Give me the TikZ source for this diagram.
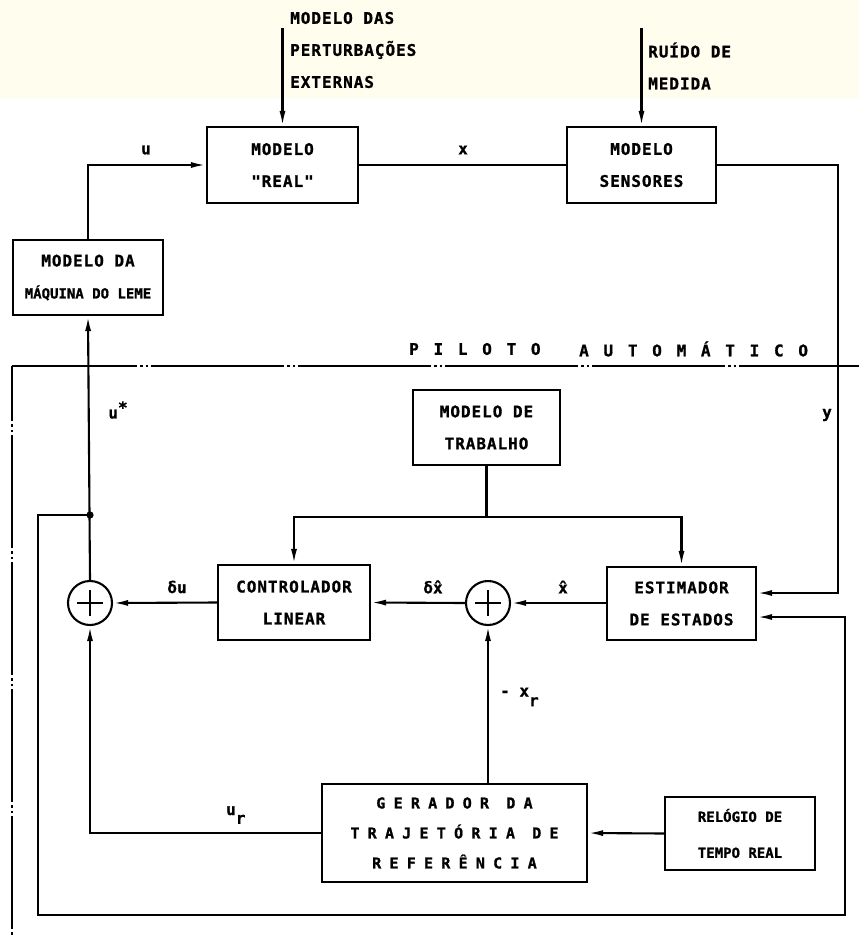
\documentclass[tikz,border=0pt]{standalone}
\usepackage{fontspec}
\usetikzlibrary{arrows.meta,calc}
\newfontfamily\plotf{DejaVu Sans Mono Bold}[LetterSpace=6,FakeBold=1]
\newfontfamily\plotn{DejaVu Sans Mono Bold}[FakeBold=1]
\newfontfamily\plotw{DejaVu Sans Mono Bold}[LetterSpace=55,FakeBold=1]
\newfontfamily\plotp{DejaVu Sans Mono Bold}[LetterSpace=92,FakeBold=1]
\definecolor{cream}{RGB}{255,253,238}
\begin{document}
\begin{tikzpicture}[x=1pt,y=-1pt,
  every node/.style={font=\plotf\fontsize{16}{32}\selectfont, inner sep=0pt},
  blk/.style={draw, line width=2.1pt, align=center},
  sumc/.style={draw, circle, line width=2.1pt, minimum size=44pt},
  wire/.style={line width=2.1pt},
  arr/.style={line width=2.1pt, -{Latex[length=15pt,width=6pt]}},
  frametop/.style={line width=1.8pt, dash pattern=on 133pt off 3pt on 2.5pt off 3pt on 2.5pt off 3pt, dash phase=8pt},
  frameleft/.style={line width=1.8pt, dash pattern=on 113pt off 3pt on 2.5pt off 3pt on 2.5pt off 3pt, dash phase=58pt},
  lbl/.style={font=\plotn\fontsize{16}{18}\selectfont},
  pilot/.style={font=\plotp\fontsize{16}{18}\selectfont}
]
\useasboundingbox (0,0) rectangle (859,935);
\fill[cream] (0,0) rectangle (859,98);

% plant blocks
\node[blk, minimum width=151pt, minimum height=76pt] (real) at (282.5,165) {MODELO\\"REAL"};
\node[blk, minimum width=149pt, minimum height=76pt] (sens) at (641.5,165) {MODELO\\SENSORES};
\node[blk, minimum width=150pt, minimum height=75pt] (maq) at (88,277.5)
  {MODELO DA\\{\plotn\fontsize{14}{32}\selectfont MÁQUINA DO LEME}};

% autopilot blocks
\node[blk, minimum width=147pt, minimum height=75pt] (trab) at (486.5,427.5) {MODELO DE\\TRABALHO};
\node[blk, minimum width=152pt, minimum height=75pt] (ctrl) at (294,602.5) {CONTROLADOR\\LINEAR};
\node[blk, minimum width=149pt, minimum height=73pt] (est) at (681.5,603.5) {ESTIMADOR\\DE ESTADOS};
\node[blk, minimum width=265pt, minimum height=98pt, font=\plotw\fontsize{15}{30}\selectfont] (ger) at (454.5,833)
  {GERADOR DA\\TRAJETÓRIA DE\\REFERÊNCIA};
\node[blk, minimum width=150pt, minimum height=73pt, font=\plotn\fontsize{14}{36}\selectfont] (rel) at (740,833.5)
  {RELÓGIO DE\\TEMPO REAL};

\node[sumc] (s1) at (90,603) {};
\node[sumc] (s2) at (488,603) {};
\foreach \s in {s1,s2}{
  \draw[line width=2.1pt] ($(\s)+(-13,0)$) -- ($(\s)+(13,0)$);
  \draw[line width=2.1pt] ($(\s)+(0,-13)$) -- ($(\s)+(0,13)$);
}

% external inputs
\coordinate (d0) at (281,28);
\coordinate (n0) at (640,28);
\draw[arr] (real.north |- d0) -- (real.north);
\draw[arr] (sens.north |- n0) -- (sens.north);
\node[anchor=west, align=left] (dtxt) at (290,50) {MODELO DAS\\PERTURBAÇÕES\\EXTERNAS};
\node[anchor=west, align=left] (ntxt) at (648,66) {RUÍDO DE\\MEDIDA};

% plant connections
\draw[arr] (maq.north) |- (real.west);
\draw[wire] (real.east) -- (sens.east -| sens.west);
\coordinate (ya) at (838,593);
\draw[arr] (sens.east) -| (ya) -- (est.east |- ya);

% autopilot frame
\coordinate (fa) at (859,366);
\coordinate (fb) at (12,366);
\coordinate (fc) at (12,935);
\draw[frametop] (fb) -- (fa);
\draw[frameleft] (fb) -- (fc);
\node[pilot, anchor=west] (pil1) at (409,349) {PILOTO};
\node[pilot, anchor=west] (pil2) at (579,349) {AUTOMÁTICO};

% working model distribution
\coordinate (tb) at (486.5,517);
\draw[wire] (trab.south) -- (tb);
\draw[arr] (tb) -| (ctrl.north);
\draw[arr] (tb) -| (est.north);

% main loop
\draw[arr] (ctrl.west) -- (s1.east);
\draw[arr] (s2.west) -- (ctrl.east);
\draw[arr] (est.west |- s2.east) -- (s2.east);
\draw[arr] (s1.north) -- (maq.south);
\coordinate (j) at (90,515);
\fill (j) circle (3.6pt);
\coordinate (f1) at (38,515);
\coordinate (f2) at (38,915);
\coordinate (f3) at (845,915);
\coordinate (f4) at (845,617);
\draw[arr] (j) -- (f1) -- (f2) -- (f3) -- (f4) -- (est.east |- f4);

% reference generator
\draw[arr] (s2.south |- ger.north) -- (s2.south);
\draw[arr] (ger.west) -| (s1.south);
\draw[arr] (rel.west) -- (ger.east);

% signal labels
\node[lbl] (lu) at (146,150) {u};
\node[lbl] (lx) at (463,150) {x};
\node[lbl] (lus) at (118,410) {u\raisebox{0.6ex}{*}};
\node[lbl] (ly) at (827,415) {y};
\node[lbl] (ldu) at (177,587) {δu};
\node[lbl] (ldx) at (433,587) {δ\^{x}};
\node[lbl] (lxh) at (563,587) {\^{x}};
\node[lbl, anchor=west] (lxr) at (500,697) {- x\raisebox{-1.1ex}{r}};
\node[lbl, anchor=west] (lur) at (226,815) {u\raisebox{-1.0ex}{r}};
\end{tikzpicture}
\end{document}
